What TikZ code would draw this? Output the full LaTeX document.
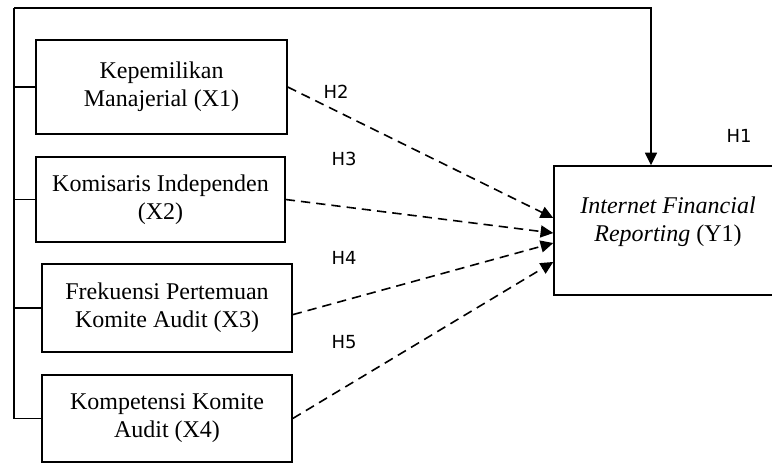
\documentclass[tikz,border=0pt]{standalone}
\usepackage{fontspec}
\setmainfont{Liberation Serif}
\newfontfamily\hfont{DejaVu Sans}
\usetikzlibrary{arrows.meta}
\tikzset{
  varbox/.style={draw, line width=1.1pt, align=center, inner sep=0pt,
    font=\fontsize{18}{21}\selectfont},
  hyp/.style={dashed, dash pattern=on 7pt off 4.5pt, line width=1.2pt},
  hlab/.style={font=\hfont\fontsize{13.5}{16}\selectfont}
}
\begin{document}
\begin{tikzpicture}[x=0.75pt, y=-0.75pt, line join=miter, >={Triangle[length=9.5pt,width=9pt]}]
\useasboundingbox (0,0) rectangle (772,465);
\node[varbox, minimum width=251*0.75pt, minimum height=94*0.75pt] (x1) at (161.5,87) {Kepemilikan\\Manajerial (X1)};
\node[varbox, minimum width=249*0.75pt, minimum height=85*0.75pt] (x2) at (160.5,199.5) {Komisaris Independen\\(X2)};
\node[varbox, minimum width=250*0.75pt, minimum height=88*0.75pt] (x3) at (167,308) {Frekuensi Pertemuan\\Komite Audit (X3)};
\node[varbox, minimum width=250*0.75pt, minimum height=87*0.75pt] (x4) at (167,418.5) {Kompetensi Komite\\Audit (X4)};
\node[varbox, minimum width=228*0.75pt, minimum height=129*0.75pt] (y1) at (668,230.5) {};
\node[align=center, inner sep=0pt, font=\fontsize{18}{21}\selectfont] (y1txt) at (668,222) {\textit{Internet Financial}\\\textit{Reporting} (Y1)};
\coordinate (spine) at (14,8);
\coordinate (corner) at (651,8);
\draw[line width=1.1pt] (spine) -- (spine |- x4.west);
\draw[line width=1.1pt] (spine |- x1.west) -- (x1.west);
\draw[line width=1.1pt] (spine |- x2.west) -- (x2.west);
\draw[line width=1.1pt] (spine |- x3.west) -- (x3.west);
\draw[line width=1.1pt] (spine |- x4.west) -- (x4.west);
\draw[line width=1.1pt, ->] (spine) -- (corner) -- (corner |- y1.north);
\draw[hyp, ->] (x1.east) -- ([yshift=9.4pt]y1.west);
\draw[hyp, ->] (x2.east) -- ([yshift=-1.9pt]y1.west);
\draw[hyp, ->] ([yshift=-5pt]x3.east) -- ([yshift=-9.4pt]y1.west);
\draw[hyp, ->] (x4.east) -- ([yshift=-23.6pt]y1.west);
\node[hlab] (h1) at (739,136) {H1};
\node[hlab] (h2) at (336,92) {H2};
\node[hlab] (h3) at (344,159) {H3};
\node[hlab] (h4) at (344,258) {H4};
\node[hlab] (h5) at (344,342) {H5};
\end{tikzpicture}
\end{document}
